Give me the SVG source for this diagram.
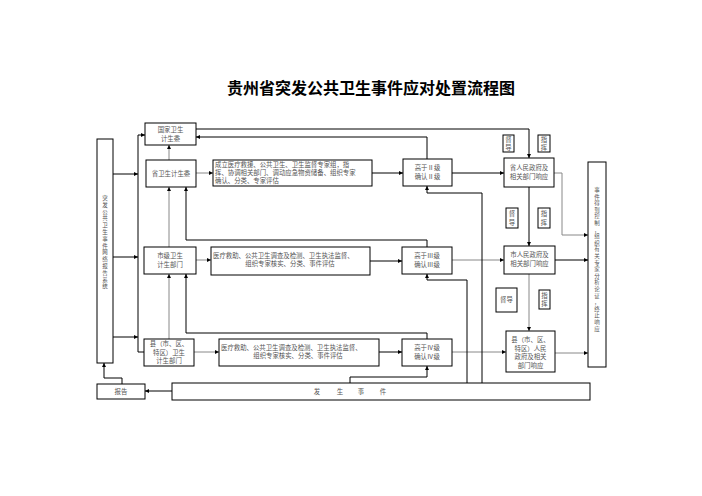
<svg xmlns="http://www.w3.org/2000/svg" width="702" height="496" viewBox="0 0 702 496">
<defs>
<marker id="arr" viewBox="0 0 6 6" refX="6" refY="3" markerWidth="4" markerHeight="4" orient="auto" markerUnits="userSpaceOnUse"><path d="M0,0 L6,3 L0,6 z" fill="#000"/></marker>
</defs>
<style>
.b{fill:#fff;stroke:#000;stroke-width:1}
.t{font-family:"Noto Sans CJK SC","Noto Sans",sans-serif;font-size:6.4px;fill:#555;text-anchor:middle}
.tl{font-family:"Noto Sans CJK SC","Noto Sans",sans-serif;font-size:6.4px;fill:#555}
.v{font-family:"Noto Sans CJK SC","Noto Sans",sans-serif;font-size:5.5px;fill:#555;text-anchor:middle}
.c{fill:none;stroke:#000;stroke-width:1;marker-end:url(#arr)}
.g{fill:none;stroke:#888;stroke-width:1;marker-end:url(#arr)}
.title{font-family:"Noto Sans CJK SC",sans-serif;font-size:16px;font-weight:bold;fill:#000;text-anchor:middle}
</style>
<rect width="702" height="496" fill="#fff"/>
<text class="title" x="371" y="94">贵州省突发公共卫生事件应对处置流程图</text>

<g id="connectors">
<path class="c" d="M196,129 H529 V158"/>
<path class="c" d="M427,159 V137 H196"/>
<path class="c" d="M144,352 H138 V135 H145"/>
<path class="c" d="M113,174 H138"/>
<path class="c" d="M113,257 H138"/>
<path class="c" d="M113,337 H138"/>
<path class="g" d="M169,160 V145"/>
<path class="g" d="M169,247 V187"/>
<path class="c" d="M427,247 V240 H186 V187"/>
<path class="g" d="M169,339 V274"/>
<path class="c" d="M427,339 V333 H186 V274"/>
<path class="g" d="M196,173 H213"/>
<path class="c" d="M372,173 H403"/>
<path class="c" d="M452,173 H504"/>
<path class="g" d="M196,260 H211"/>
<path class="c" d="M370,261 H402"/>
<path class="g" d="M452,260 H504"/>
<path class="g" d="M194,352 H219"/>
<path class="c" d="M379,352 H402"/>
<path class="g" d="M452,352 H506"/>
<path class="c" d="M482,383 V193 H427 V186"/>
<path class="c" d="M467,383 V280 H427 V274"/>
<path class="c" d="M350,383 V377 H427 V366"/>
<path class="c" d="M172,391 H145"/>
<path class="c" d="M122,384 V378 H104 V363"/>
<path class="c" d="M529,187 V246"/>
<path class="g" d="M529,274 V331"/>
<path class="g" d="M554,173 H562 V235 H588"/>
<path class="c" d="M555,260 H588"/>
<path class="g" d="M555,353 H588"/>
</g>

<g id="guojia"><rect class="b" x="145" y="123" width="51" height="22"/><text class="t" x="170.5" y="132">国家卫生</text><text class="t" x="170.5" y="141">计生委</text></g>
<g id="sheng"><rect class="b" x="146" y="160" width="50" height="27"/><text class="t" x="171" y="176">省卫生计生委</text></g>
<g id="shi"><rect class="b" x="144" y="247" width="52" height="27"/><text class="t" x="170" y="258">市级卫生</text><text class="t" x="170" y="267">计生部门</text></g>
<g id="xian"><rect class="b" x="144" y="339" width="50" height="27"/><text class="t" x="169" y="346">县（市、区、</text><text class="t" x="169" y="354.5">特区）卫生</text><text class="t" x="169" y="363">计生部门</text></g>
<g id="system"><rect class="b" x="97" y="139" width="16" height="224"/>
<text class="v" x="105" y="200">突</text><text class="v" x="105" y="206.8">发</text><text class="v" x="105" y="213.6">公</text><text class="v" x="105" y="220.4">共</text><text class="v" x="105" y="227.2">卫</text><text class="v" x="105" y="234">生</text><text class="v" x="105" y="240.8">事</text><text class="v" x="105" y="247.6">件</text><text class="v" x="105" y="254.4">网</text><text class="v" x="105" y="261.2">络</text><text class="v" x="105" y="268">报</text><text class="v" x="105" y="274.8">告</text><text class="v" x="105" y="281.6">系</text><text class="v" x="105" y="288.4">统</text></g>
<g id="baogao"><rect class="b" x="97" y="384" width="48" height="15"/><text class="t" x="121" y="394">报告</text></g>
<g id="event"><rect class="b" x="172" y="383" width="418" height="17"/><text class="t" x="317" y="394">发</text><text class="t" x="340" y="394">生</text><text class="t" x="361" y="394">事</text><text class="t" x="383" y="394">件</text></g>
<g id="sheng-task"><rect class="b" x="213" y="160" width="159" height="26"/><text class="tl" x="215" y="167">成立医疗救援、公共卫生、卫生监督专家组，指</text><text class="tl" x="215" y="175">挥、协调相关部门、调动应急物资储备、组织专家</text><text class="tl" x="215" y="183">确认、分类、专家评估</text></g>
<g id="shi-task"><rect class="b" x="211" y="247" width="159" height="28"/><text class="tl" x="213" y="258">医疗救助、公共卫生调查及检测、卫生执法监督、</text><text class="t" x="290" y="266">组织专家核实、分类、事件评估</text></g>
<g id="xian-task"><rect class="b" x="219" y="339" width="160" height="27"/><text class="tl" x="221" y="350">医疗救助、公共卫生调查及检测、卫生执法监督、</text><text class="t" x="298" y="358">组织专家核实、分类、事件评估</text></g>
<g id="g2"><rect class="b" x="403" y="159" width="49" height="27"/><text class="t" x="427.5" y="170">高于Ⅱ级</text><text class="t" x="427.5" y="179">确认Ⅱ级</text></g>
<g id="g3"><rect class="b" x="402" y="247" width="50" height="27"/><text class="t" x="427" y="258">高于Ⅲ级</text><text class="t" x="427" y="267">确认Ⅲ级</text></g>
<g id="g4"><rect class="b" x="402" y="339" width="50" height="27"/><text class="t" x="427" y="350">高于Ⅳ级</text><text class="t" x="427" y="359">确认Ⅳ级</text></g>
<g id="sgov"><rect class="b" x="504" y="158" width="50" height="29"/><text class="t" x="529" y="170">省人民政府及</text><text class="t" x="529" y="179">相关部门响应</text></g>
<g id="cgov"><rect class="b" x="504" y="246" width="51" height="28"/><text class="t" x="529.5" y="257">市人民政府及</text><text class="t" x="529.5" y="266">相关部门响应</text></g>
<g id="xgov"><rect class="b" x="506" y="331" width="49" height="41"/><text class="t" x="530.5" y="342">县（市、区、</text><text class="t" x="530.5" y="350.5">特区）人民</text><text class="t" x="530.5" y="359">政府及相关</text><text class="t" x="530.5" y="367.5">部门响应</text></g>
<g id="duda1"><rect class="b" x="503" y="135" width="11" height="17"/><text class="t" x="508.5" y="142">督</text><text class="t" x="508.5" y="150">导</text></g>
<g id="zhihui1"><rect class="b" x="538" y="135" width="12" height="17"/><text class="t" x="544" y="142">指</text><text class="t" x="544" y="150">挥</text></g>
<g id="duda2"><rect class="b" x="506" y="208" width="12" height="20"/><text class="t" x="512" y="216">督</text><text class="t" x="512" y="225">导</text></g>
<g id="zhihui2"><rect class="b" x="538" y="208" width="12" height="20"/><text class="t" x="544" y="216">指</text><text class="t" x="544" y="225">挥</text></g>
<g id="duda3"><rect class="b" x="496" y="288" width="21" height="24"/><text class="t" x="506.5" y="302">督导</text></g>
<g id="zhihui3"><rect class="b" x="539" y="290" width="11" height="19"/><text class="t" x="544.5" y="298">指</text><text class="t" x="544.5" y="306">挥</text></g>
<g id="end"><rect class="b" x="588" y="162" width="18" height="205"/>
<text class="v" x="597" y="192">事</text><text class="v" x="597" y="198.6">件</text><text class="v" x="597" y="205.2">得</text><text class="v" x="597" y="211.8">到</text><text class="v" x="597" y="218.4">控</text><text class="v" x="597" y="225">制</text><text class="v" x="597" y="231.6">，</text><text class="v" x="597" y="238.2">组</text><text class="v" x="597" y="244.8">织</text><text class="v" x="597" y="251.4">有</text><text class="v" x="597" y="258">关</text><text class="v" x="597" y="264.6">专</text><text class="v" x="597" y="271.2">家</text><text class="v" x="597" y="277.8">分</text><text class="v" x="597" y="284.4">析</text><text class="v" x="597" y="291">论</text><text class="v" x="597" y="297.6">证</text><text class="v" x="597" y="304.2">，</text><text class="v" x="597" y="310.8">终</text><text class="v" x="597" y="317.4">止</text><text class="v" x="597" y="324">响</text><text class="v" x="597" y="330.6">应</text></g>
</svg>
